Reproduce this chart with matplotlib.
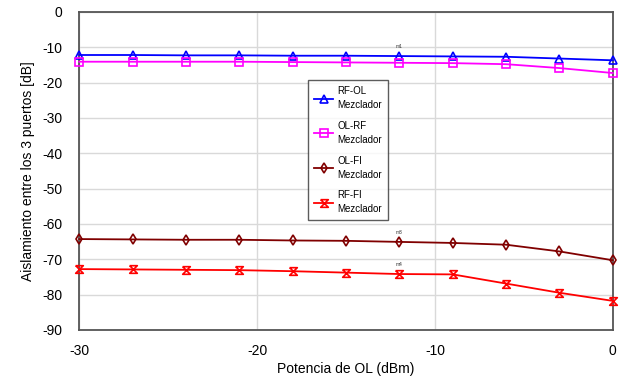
import matplotlib.pyplot as plt
import numpy as np

plt.rcParams['font.family'] = ['Liberation Sans', 'DejaVu Sans']
plt.rcParams['axes.unicode_minus'] = False

# potencia de OL (dBm)
potencia = [-30, -27, -24, -21, -18, -15, -12, -9, -6, -3, 0]

rf_ol = [-12.2, -12.2, -12.3, -12.3, -12.4, -12.4, -12.5, -12.6, -12.7, -13.2, -13.7]
ol_rf = [-14.1, -14.1, -14.1, -14.1, -14.2, -14.3, -14.4, -14.5, -14.8, -15.9, -17.3]
ol_fi = [-64.3, -64.4, -64.5, -64.5, -64.7, -64.8, -65.1, -65.4, -65.9, -67.8, -70.3]
rf_fi = [-72.8, -72.9, -73.0, -73.1, -73.4, -73.8, -74.2, -74.3, -76.9, -79.5, -81.8]

series = [
    ('RF-OL\nMezclador', rf_ol, '#0000ff', '^'),
    ('OL-RF\nMezclador', ol_rf, '#ff00ff', 's'),
    ('OL-FI\nMezclador', ol_fi, '#800000', 'd'),
    ('RF-FI\nMezclador', rf_fi, '#ff0000', [(-1, 1), (1, 1), (-1, -1), (1, -1), (-1, 1)]),
]

fig = plt.figure(figsize=(6.19, 3.84), dpi=100)
ax = fig.add_axes([0.128, 0.141, 0.862, 0.828])

for label, y, c, m in series:
    ax.plot(potencia, y, color=c, lw=1.3, marker=m, markersize=5.5,
            markerfacecolor='none', markeredgecolor=c, markeredgewidth=1.2,
            label=label, clip_on=False, zorder=3)

# etiquetas de marcadores
for i, (lab, y) in enumerate(zip(['m1', 'm2', 'm3', 'm4'], [rf_ol, ol_rf, ol_fi, rf_fi])):
    if i == 1:
        continue
    ax.text(-12, y[6] + 2.0, lab, fontsize=3.5, ha='center', va='bottom', color='#333333')

ax.set_xlim(-30, 0)
ax.set_ylim(-90, 0)
ax.set_xticks([-30, -20, -10, 0])
ax.set_yticks(np.arange(-90, 1, 10))
ax.tick_params(axis='y', length=0, labelsize=10, pad=12)
ax.tick_params(axis='x', length=0, labelsize=10, pad=10)
ax.grid(True, color='#d9d9d9', lw=1)
ax.set_axisbelow(True)
for s in ax.spines.values():
    s.set_color('#555555')
    s.set_linewidth(1.3)

ax.set_xlabel('Potencia de OL (dBm)', fontsize=10, labelpad=3)
ax.set_ylabel('Aislamiento entre los 3 puertos [dB]', fontsize=10, labelpad=5)

leg = ax.legend(loc='upper left', bbox_to_anchor=(0.42, 0.80), fontsize=7,
                frameon=True, fancybox=False, handlelength=2.0, labelspacing=1.1,
                borderpad=0.6, handletextpad=0.4)
leg.get_frame().set_edgecolor('#333333')
leg.get_frame().set_linewidth(1.0)
for t in leg.get_texts():
    t.set_linespacing(1.5)

fig.savefig('out.png', dpi=100)
